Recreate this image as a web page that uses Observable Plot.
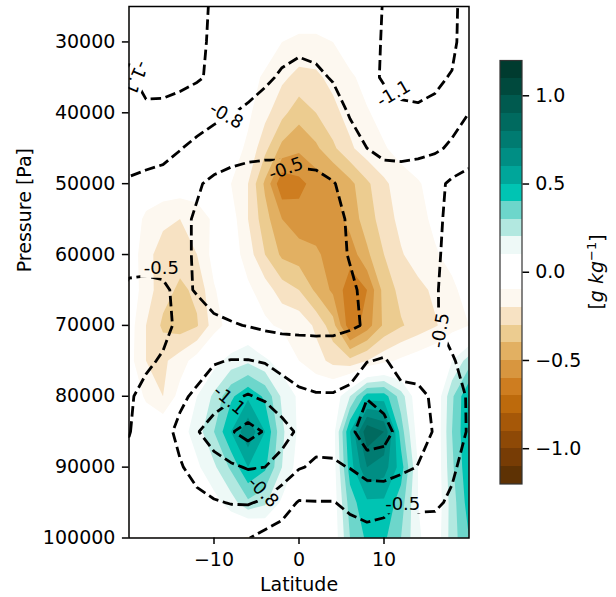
<!DOCTYPE html>
<html><head><meta charset="utf-8">
<script src="https://cdn.jsdelivr.net/npm/d3@7"></script>
<script src="https://cdn.jsdelivr.net/npm/@observablehq/plot@0.6"></script>
<style>
body{margin:0;background:#fff;}
#wrap{position:relative;width:616px;height:597px;font-family:"DejaVu Sans",sans-serif;}
#main{position:absolute;left:0;top:0;}
#cbar{position:absolute;left:490px;top:0;}
</style></head><body><div id="wrap"><div id="main"></div><div id="cbar"></div></div>
<script>
// ---- data ----
const lats = [-20,-18,-16,-14,-12,-10,-8,-6,-4,-2,0,2,4,6,8,10,12,14,16,18,20];
const pressures = [25000,30000,35000,40000,45000,50000,55000,60000,65000,70000,75000,80000,85000,90000,95000,100000];

// filled field [g/kg], rows = pressure, columns = latitude
const moisture = [
  [0,0,0,0,0,0,0,0,0,0,0,0,0,0,0,0,0,0,0,0,0],
  [0,0,0,0,0,0,0,0,-0.03,-0.1,-0.13,-0.13,-0.1,-0.03,0,0,0,0,0,0,0],
  [0,0,0,0,0,0,0,-0.05,-0.12,-0.18,-0.23,-0.22,-0.17,-0.12,-0.06,0,0,0,0,0,0],
  [0,0,0,0,0,0,-0.03,-0.08,-0.17,-0.27,-0.36,-0.3,-0.23,-0.16,-0.11,-0.06,-0.02,0,0,0,0],
  [0,0,0,0,0,-0.02,-0.05,-0.12,-0.27,-0.43,-0.48,-0.42,-0.32,-0.22,-0.14,-0.11,-0.06,-0.03,0,0,0],
  [0,0,-0.02,-0.03,-0.03,-0.06,-0.1,-0.2,-0.42,-0.68,-0.63,-0.56,-0.52,-0.43,-0.32,-0.22,-0.15,-0.11,-0.06,-0.02,0],
  [0,-0.13,-0.18,-0.2,-0.16,-0.08,-0.05,-0.2,-0.36,-0.5,-0.56,-0.56,-0.56,-0.46,-0.35,-0.25,-0.17,-0.13,-0.08,-0.04,0],
  [-0.02,-0.17,-0.24,-0.26,-0.2,-0.06,-0.04,-0.15,-0.3,-0.42,-0.45,-0.48,-0.55,-0.56,-0.42,-0.3,-0.21,-0.15,-0.11,-0.07,-0.03],
  [-0.03,-0.15,-0.26,-0.32,-0.28,-0.11,-0.03,-0.08,-0.15,-0.25,-0.3,-0.42,-0.52,-0.66,-0.6,-0.36,-0.27,-0.23,-0.18,-0.12,-0.06],
  [-0.05,-0.2,-0.32,-0.35,-0.31,-0.15,-0.05,0,-0.08,-0.12,-0.13,-0.22,-0.36,-0.67,-0.55,-0.38,-0.31,-0.26,-0.21,-0.15,-0.1],
  [-0.06,-0.2,-0.22,-0.15,-0.05,0.06,0.14,0.18,0.12,0.05,-0.1,-0.16,-0.23,-0.27,-0.2,-0.13,-0.08,-0.04,0,0.1,0.25],
  [0,-0.12,-0.2,-0.06,0.1,0.22,0.38,0.48,0.38,0.18,0.08,0,0.02,0.2,0.45,0.45,0.25,0.02,0,0.28,0.5],
  [0,0,0,0.05,0.15,0.3,0.5,0.68,0.5,0.22,0.08,0,0.05,0.5,0.88,0.8,0.35,0.05,0,0.3,0.5],
  [0,0,0,0,0.08,0.18,0.32,0.5,0.42,0.2,0.05,0,0.04,0.45,0.7,0.65,0.45,0.1,0,0.28,0.48],
  [0,0,0,0,0,0.06,0.15,0.28,0.22,0.08,0,0,0.03,0.35,0.48,0.48,0.35,0.1,0,0.25,0.45],
  [0,-0.02,-0.03,0,0,0,-0.05,-0.12,-0.05,0,0,0,0.02,0.3,0.42,0.42,0.3,0.12,0.02,0.25,0.4]
];

// dashed-contour field, rows = pressure, columns = latitude
const lineField = [
  [-1.25,-1.35,-1.35,-1.3,-1.18,-1.06,-1.0,-0.96,-0.93,-0.9,-0.88,-0.9,-0.93,-0.97,-1.02,-1.11,-1.2,-1.25,-1.25,-1.2,-0.9],
  [-1.15,-1.3,-1.3,-1.25,-1.15,-1.06,-1.0,-0.95,-0.91,-0.88,-0.86,-0.88,-0.91,-0.95,-1.02,-1.12,-1.2,-1.25,-1.22,-1.18,-0.9],
  [-1.07,-1.18,-1.2,-1.18,-1.13,-1.05,-0.97,-0.9,-0.84,-0.77,-0.72,-0.75,-0.82,-0.92,-1.02,-1.13,-1.2,-1.2,-1.15,-1.08,-0.88],
  [-0.97,-1.05,-1.03,-0.98,-0.92,-0.86,-0.81,-0.76,-0.7,-0.64,-0.6,-0.62,-0.68,-0.82,-0.88,-0.98,-1.04,-1.06,-1.04,-0.9,-0.8],
  [-0.88,-0.88,-0.86,-0.81,-0.74,-0.68,-0.58,-0.56,-0.55,-0.55,-0.6,-0.58,-0.62,-0.7,-0.8,-0.85,-0.86,-0.86,-0.84,-0.76,-0.7],
  [-0.78,-0.75,-0.73,-0.66,-0.53,-0.44,-0.43,-0.41,-0.4,-0.4,-0.42,-0.45,-0.49,-0.56,-0.64,-0.7,-0.7,-0.66,-0.58,-0.45,-0.35],
  [-0.68,-0.65,-0.62,-0.56,-0.47,-0.4,-0.36,-0.34,-0.33,-0.33,-0.35,-0.38,-0.43,-0.53,-0.62,-0.66,-0.66,-0.62,-0.55,-0.44,-0.35],
  [-0.58,-0.56,-0.55,-0.54,-0.48,-0.4,-0.35,-0.32,-0.3,-0.3,-0.32,-0.35,-0.4,-0.52,-0.6,-0.64,-0.64,-0.6,-0.54,-0.42,-0.35],
  [-0.46,-0.46,-0.48,-0.53,-0.49,-0.42,-0.36,-0.33,-0.3,-0.28,-0.3,-0.33,-0.38,-0.45,-0.57,-0.63,-0.63,-0.59,-0.52,-0.42,-0.35],
  [-0.42,-0.42,-0.45,-0.54,-0.56,-0.54,-0.52,-0.49,-0.45,-0.43,-0.44,-0.44,-0.45,-0.47,-0.52,-0.62,-0.62,-0.58,-0.52,-0.43,-0.38],
  [-0.42,-0.47,-0.52,-0.6,-0.68,-0.78,-0.81,-0.81,-0.78,-0.72,-0.66,-0.64,-0.62,-0.68,-0.79,-0.82,-0.72,-0.68,-0.6,-0.52,-0.42],
  [-0.48,-0.55,-0.62,-0.75,-0.85,-0.95,-1.05,-1.12,-1.05,-0.92,-0.85,-0.82,-0.82,-0.86,-1.08,-1.0,-0.86,-0.86,-0.76,-0.58,-0.48],
  [-0.49,-0.6,-0.72,-0.86,-1.08,-1.25,-1.38,-1.5,-1.38,-1.22,-1.05,-0.9,-0.92,-1.02,-1.3,-1.2,-1.0,-0.9,-0.78,-0.6,-0.48],
  [-0.56,-0.62,-0.7,-0.78,-0.88,-0.98,-1.06,-1.12,-1.1,-0.98,-0.82,-0.76,-0.76,-0.81,-0.92,-0.96,-0.88,-0.79,-0.66,-0.52,-0.45],
  [-0.6,-0.62,-0.64,-0.68,-0.74,-0.78,-0.81,-0.82,-0.76,-0.62,-0.48,-0.49,-0.49,-0.55,-0.6,-0.56,-0.49,-0.53,-0.52,-0.48,-0.45],
  [-0.58,-0.56,-0.52,-0.56,-0.62,-0.66,-0.6,-0.51,-0.42,-0.38,-0.36,-0.36,-0.38,-0.4,-0.42,-0.42,-0.4,-0.42,-0.44,-0.42,-0.4]
];

const fillLevels = [-1.2,-1.1,-1.0,-0.9,-0.8,-0.7,-0.6,-0.5,-0.4,-0.3,-0.2,-0.1,0,0.1,0.2,0.3,0.4,0.5,0.6,0.7,0.8,0.9,1.0,1.1,1.2];
const bandColors = ["#5e3204","#773c05","#8e4906","#a65808","#bd6a0c","#ce7d20","#d8963f","#e2b062","#eccc90","#f7e2c3","#fdf8f0","#ffffff",
                    "#ffffff","#eef9f7","#b2e8e0","#6dd6cb","#00c4b3","#00a69a","#008e84","#007b71","#006a5f","#005a4f","#00493d","#003b2f"];
const lineLevels = [-1.4,-1.1,-0.8,-0.5];
const xTicks = [-10,0,10];
const yTicks = [30000,40000,50000,60000,70000,80000,90000,100000];
const cbarTicks = [-1,-0.5,0,0.5,1];
const contourLabels = [
  {lat:-19.2, p:35070, label:"-1.1", angle:114},
  {lat:-8.56, p:40420, label:"-0.8", angle:30},
  {lat:-1.52, p:47890, label:"-0.5", angle:-20},
  {lat:11.14, p:37320, label:"-1.1", angle:-30},
  {lat:-16.19, p:61970, label:"-0.5", angle:0},
  {lat:16.66, p:70700, label:"-0.5", angle:-80},
  {lat:-8.21, p:80560, label:"-1.1", angle:40},
  {lat:-4.22, p:93520, label:"-0.8", angle:45},
  {lat:12.2, p:95210, label:"-0.5", angle:0}
];

// ---- derived ----
const nx = lats.length, ny = pressures.length;
const dLat = lats[1]-lats[0], dP = pressures[1]-pressures[0];
const grid = {width: nx, height: ny, x1: lats[0]-dLat/2, x2: lats[nx-1]+dLat/2, y1: pressures[0]-dP/2, y2: pressures[ny-1]+dP/2};
const fThresholds = fillLevels.slice(0, fillLevels.length-1);
const colorScale = {type: "threshold", domain: fillLevels.slice(1, fillLevels.length-1).map(v => Math.round((v-0.05)*100)/100), range: bandColors};
const bands = fThresholds.map((lo, i) => ({lo, hi: fillLevels[i+1]}));
const font = {fontFamily: "DejaVu Sans", fontSize: "19px", background: "white", color: "black"};

const main = Plot.plot({
  width: 480, height: 597,
  marginLeft: 128.5, marginRight: 11.5, marginTop: 6, marginBottom: 59.5,
  style: font,
  x: {domain: [lats[0], lats[nx-1]]},
  y: {domain: [pressures[0], pressures[ny-1]], reverse: true},
  color: colorScale,
  marks: [
    Plot.contour(moisture.flat(), {...grid, fill: Plot.identity, thresholds: fThresholds, stroke: "none", clip: true}),
    Plot.contour(lineField.flat(), {...grid, value: Plot.identity, thresholds: lineLevels, fill: "none", stroke: "black", strokeWidth: 2.8, strokeDasharray: "10.5,4.6", clip: true}),
    Plot.text(contourLabels, {x: "lat", y: "p", text: "label", rotate: "angle", fontSize: 18, fill: "black", clip: true}),
    Plot.frame({stroke: "black", strokeWidth: 1.5}),
    Plot.axisX({ticks: xTicks, tickFormat: d3.format("d"), tickSize: 6.6, tickPadding: 8, strokeWidth: 1.5, label: null, fontSize: 19}),
    Plot.axisY({ticks: yTicks, tickFormat: d3.format("d"), tickSize: 6.6, tickPadding: 7, strokeWidth: 1.5, label: null, fontSize: 19}),
    Plot.text(["Latitude"], {frameAnchor: "bottom", dy: 53, fontSize: 19}),
    Plot.text(["Pressure [Pa]"], {frameAnchor: "left", dx: -104, rotate: -90, fontSize: 19})
  ]
});
document.getElementById("main").append(main);

// break dashed lines under the inline labels
(function(){
  const svg = d3.select(main);
  const contourGroups = svg.selectAll('g[aria-label="contour"]').nodes();
  const lineG = contourGroups[contourGroups.length-1];
  const textGroup = svg.selectAll('g[aria-label="text"]').nodes()[0];
  if (!lineG || !textGroup) return;
  const mask = svg.append("defs").append("mask").attr("id","clabel-mask").attr("maskUnits","userSpaceOnUse")
    .attr("x",0).attr("y",0).attr("width",480).attr("height",597);
  mask.append("rect").attr("x",0).attr("y",0).attr("width",480).attr("height",597).attr("fill","white");
  d3.select(textGroup).selectAll("text").each(function(){
    const b = this.getBBox();
    const r = mask.append("rect").attr("x", b.x-3).attr("y", b.y).attr("width", b.width+6).attr("height", b.height).attr("fill","black");
    const tr = this.getAttribute("transform");
    if (tr) r.attr("transform", tr);
  });
  d3.select(lineG).attr("mask","url(#clabel-mask)");
})();

const cbar = Plot.plot({
  width: 126, height: 597,
  marginLeft: 9.5, marginRight: 94.5, marginTop: 60, marginBottom: 113.5,
  style: font,
  x: {domain: [0, 1], axis: null},
  y: {domain: [fillLevels[0], fillLevels[fillLevels.length-1]]},
  color: colorScale,
  marks: [
    Plot.rect(bands, {x1: 0, x2: 1, y1: "lo", y2: "hi", fill: "lo", shapeRendering: "crispEdges"}),
    Plot.frame({stroke: "#333", strokeWidth: 1.2}),
    Plot.axisY({anchor: "right", ticks: cbarTicks, tickFormat: d3.format(".1f"), tickSize: 6.6, tickPadding: 6.6, strokeWidth: 1.5, label: null, fontSize: 19})
  ]
});
document.getElementById("cbar").append(cbar);
(function(){
  const t = d3.select(cbar).append("text")
    .attr("transform", "translate(107,272) rotate(-90)")
    .attr("text-anchor", "middle").attr("dy", "0.32em")
    .attr("font-family", "DejaVu Sans").attr("font-size", "19px").attr("fill", "black");
  t.append("tspan").text("[");
  t.append("tspan").attr("font-style", "italic").text("g kg");
  t.append("tspan").attr("font-size", "13px").attr("dy", "-0.55em").text("\u22121");
  t.append("tspan").attr("dy", "0.4em").text("]");
})();
</script></body></html>
